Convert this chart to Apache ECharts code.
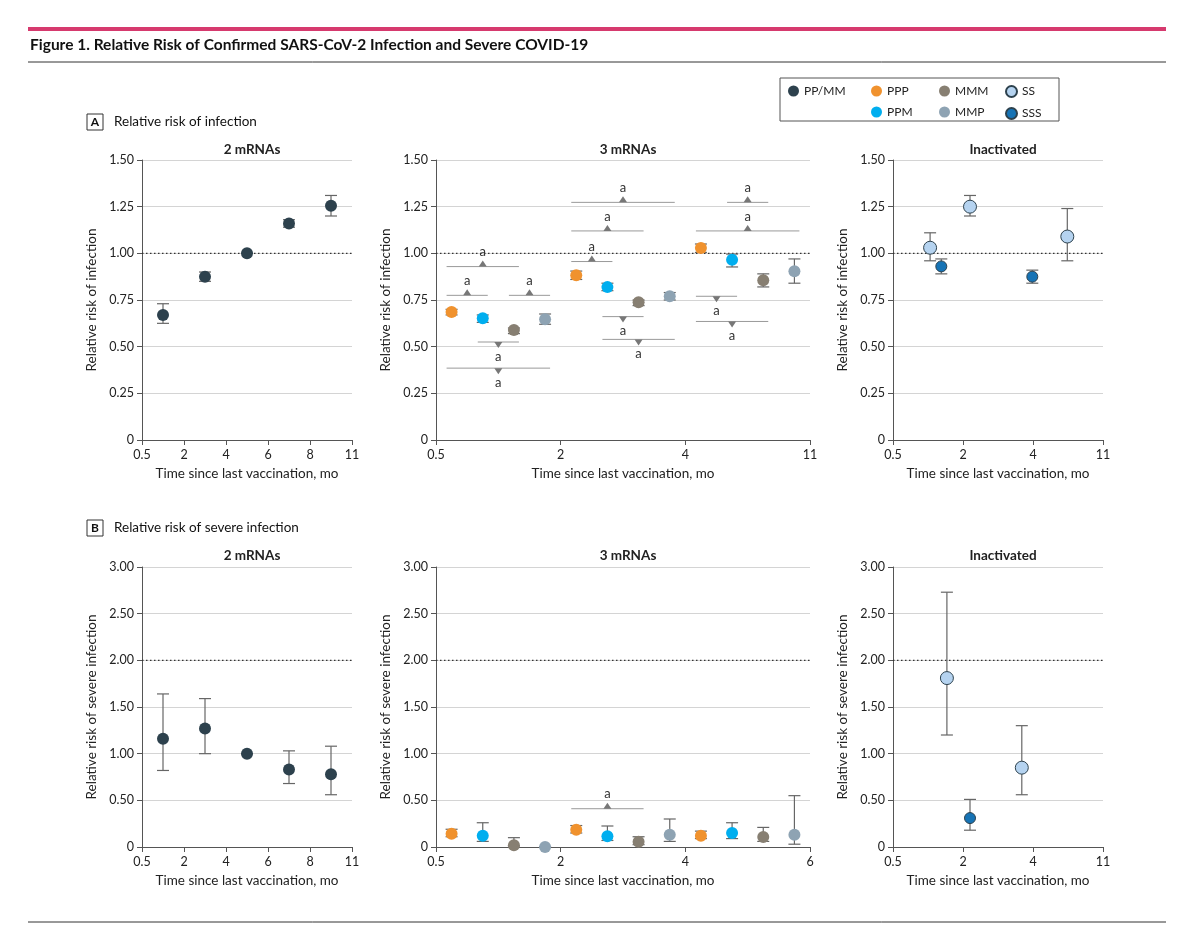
<!DOCTYPE html>
<html>
<head>
<meta charset="utf-8">
<script src="https://cdn.jsdelivr.net/npm/echarts@6/dist/echarts.min.js"></script>
<style>html,body{margin:0;padding:0;background:#fff}#chart{width:1200px;height:927px}</style>
</head>
<body>
<div id="chart"></div>
<script>
// tick labels
var ticks2 = ['0.5', '2', '4', '6', '8', '11'];
var ticks3Top = ['0.5', '2', '4', '11'];
var ticks3Bot = ['0.5', '2', '4', '6'];
var ticksInact = ['0.5', '2', '4', '11'];

// 2 mRNAs (PP/MM): [estimate, low, high]
var pp_inf = [[0.67, 0.625, 0.73], [0.875, 0.85, 0.90], [1.0, 1.0, 1.0], [1.16, 1.14, 1.18], [1.255, 1.20, 1.31]];
var pp_sev = [[1.16, 0.82, 1.64], [1.27, 1.0, 1.59], [1.0, 1.0, 1.0], [0.83, 0.68, 1.03], [0.78, 0.56, 1.08]];

// 3 mRNAs, one array per series, one entry per time group
var ppp_inf = [[0.686, 0.67, 0.70], [0.883, 0.86, 0.905], [1.028, 1.005, 1.05]];
var ppm_inf = [[0.652, 0.63, 0.67], [0.819, 0.80, 0.84], [0.965, 0.927, 0.996]];
var mmm_inf = [[0.589, 0.57, 0.60], [0.738, 0.72, 0.75], [0.856, 0.82, 0.89]];
var mmp_inf = [[0.647, 0.62, 0.675], [0.77, 0.75, 0.79], [0.904, 0.84, 0.97]];
var ppp_sev = [[0.143, 0.11, 0.19], [0.186, 0.15, 0.23], [0.12, 0.09, 0.17]];
var ppm_sev = [[0.12, 0.06, 0.26], [0.114, 0.07, 0.225], [0.15, 0.09, 0.26]];
var mmm_sev = [[0.02, 0.01, 0.10], [0.057, 0.025, 0.11], [0.107, 0.06, 0.21]];
var mmp_sev = [[0.0, 0.0, 0.0], [0.13, 0.06, 0.30], [0.13, 0.03, 0.55]];

// significance brackets: [group, fromSeries, toSeries, y, direction]
var brk_inf = [
  [0, 0, 2, 0.929, 'up'], [0, 0, 1, 0.775, 'up'], [0, 2, 3, 0.775, 'up'],
  [0, 1, 2, 0.525, 'down'], [0, 0, 3, 0.385, 'down'],
  [1, 0, 3, 1.273, 'up'], [1, 0, 2, 1.12, 'up'], [1, 0, 1, 0.956, 'up'],
  [1, 1, 2, 0.661, 'down'], [1, 1, 3, 0.539, 'down'],
  [2, 1, 2, 1.273, 'up'], [2, 0, 3, 1.12, 'up'],
  [2, 0, 1, 0.77, 'down'], [2, 0, 2, 0.635, 'down']
];
var brk_sev = [[1, 0, 2, 0.41, 'up']];

// inactivated: [x position on band axis, estimate, low, high]
var ss_inf = [[0.53, 1.03, 0.96, 1.11], [1.1, 1.25, 1.20, 1.31], [2.49, 1.09, 0.96, 1.24]];
var sss_inf = [[0.69, 0.93, 0.89, 0.97], [1.99, 0.875, 0.84, 0.91]];
var ss_sev = [[0.77, 1.81, 1.20, 2.73], [1.84, 0.85, 0.56, 1.30]];
var sss_sev = [[1.1, 0.31, 0.18, 0.51]];

var colors = {
  'PP/MM': '#2d414d', PPP: '#f0922e', PPM: '#00aeef', MMM: '#877f72',
  MMP: '#8ea3b3', SS: '#b5d3f0', SSS: '#1673b5'
};

var chart = echarts.init(document.getElementById('chart'));

var grids = [
  {left: 142, top: 160, width: 210, height: 280},
  {left: 436, top: 160, width: 374, height: 280},
  {left: 893, top: 160, width: 210, height: 280},
  {left: 142, top: 567, width: 210, height: 280},
  {left: 436, top: 567, width: 374, height: 280},
  {left: 893, top: 567, width: 210, height: 280}
];
var xTicks = [ticks2, ticks3Top, ticksInact, ticks2, ticks3Bot, ticksInact];
var axText = {color: '#222', fontSize: 12.5, fontFamily: 'Lato'};

var xAxes = xTicks.map(function (t, i) {
  return {
    gridIndex: i, type: 'value', min: 0, max: t.length - 1, interval: 1,
    name: 'Time since last vaccination, mo', nameLocation: 'middle', nameGap: 27,
    nameTextStyle: {color: '#222', fontSize: 13.5, fontFamily: 'Lato'},
    axisLine: {lineStyle: {color: '#555'}}, axisTick: {lineStyle: {color: '#555'}},
    splitLine: {show: false},
    axisLabel: Object.assign({formatter: function (v) { return t[Math.round(v)]; }}, axText)
  };
});
var yAxes = grids.map(function (g, i) {
  var top = i < 3;
  return {
    gridIndex: i, type: 'value', min: 0, max: top ? 1.5 : 3, interval: top ? 0.25 : 0.5,
    name: top ? 'Relative risk of infection' : 'Relative risk of severe infection',
    nameLocation: 'middle', nameGap: 43,
    nameTextStyle: {color: '#222', fontSize: 13.5, fontFamily: 'Lato'},
    axisLine: {show: true, lineStyle: {color: '#555'}}, axisTick: {show: true, lineStyle: {color: '#555'}},
    splitLine: {lineStyle: {color: '#d4d4d4'}},
    axisLabel: Object.assign({formatter: function (v) { return v === 0 ? '0' : v.toFixed(2); }}, axText)
  };
});

var series = [];

function addPoints(name, gi, pts, size) {
  series.push({
    type: 'custom', xAxisIndex: gi, yAxisIndex: gi, silent: true, z: 2,
    data: pts.map(function (p) { return [p[0], p[2], p[3]]; }),
    encode: {x: 0, y: [1, 2]},
    renderItem: function (params, api) {
      var x = api.value(0);
      var lo = api.coord([x, api.value(1)]);
      var hi = api.coord([x, api.value(2)]);
      var w = 6;
      var st = {stroke: '#666', lineWidth: 1.2};
      return {type: 'group', children: [
        {type: 'line', shape: {x1: lo[0], y1: lo[1], x2: hi[0], y2: hi[1]}, style: st},
        {type: 'line', shape: {x1: lo[0] - w, y1: lo[1], x2: lo[0] + w, y2: lo[1]}, style: st},
        {type: 'line', shape: {x1: hi[0] - w, y1: hi[1], x2: hi[0] + w, y2: hi[1]}, style: st}
      ]};
    }
  });
  series.push({
    name: name, type: 'scatter', xAxisIndex: gi, yAxisIndex: gi, z: 3,
    symbolSize: size || 12,
    itemStyle: {color: colors[name], borderColor: '#2d414d', borderWidth: name === 'SS' || name === 'SSS' ? 1 : 0, opacity: 1},
    data: pts.map(function (p) { return [p[0], p[1]]; })
  });
}

function addRef(gi, y) {
  series.push({
    type: 'line', xAxisIndex: gi, yAxisIndex: gi, silent: true, symbol: 'none', z: 1,
    data: [[0, y], [xTicks[gi].length - 1, y]],
    lineStyle: {color: '#333', width: 1.2, type: [1.5, 2.5]}
  });
}

function addBrackets(gi, list) {
  series.push({
    type: 'custom', xAxisIndex: gi, yAxisIndex: gi, silent: true, z: 2,
    data: list.map(function (b) {
      return [b[0] + (b[1] + 0.5) / 4, b[0] + (b[2] + 0.5) / 4, b[3], b[4] === 'up' ? 1 : -1];
    }),
    encode: {x: [0, 1], y: 2},
    renderItem: function (params, api) {
      var a = api.coord([api.value(0), api.value(2)]);
      var b = api.coord([api.value(1), api.value(2)]);
      var d = api.value(3);
      var m = (a[0] + b[0]) / 2, y = a[1];
      var tri = d > 0 ? [[m - 4, y], [m + 4, y], [m, y - 6]] : [[m - 4, y], [m + 4, y], [m, y + 6]];
      return {type: 'group', children: [
        {type: 'line', shape: {x1: a[0] - 5, y1: y, x2: b[0] + 5, y2: y}, style: {stroke: '#999', lineWidth: 1}},
        {type: 'polygon', shape: {points: tri}, style: {fill: '#777'}},
        {type: 'text', x: m, y: d > 0 ? y - 8 : y + 8,
          style: {text: 'a', fill: '#333', fontSize: 13, fontFamily: 'Lato', align: 'center', verticalAlign: d > 0 ? 'bottom' : 'top'}}
      ]};
    }
  });
}

function idx(arr) { return arr.map(function (p, i) { return [i + 0.5, p[0], p[1], p[2]]; }); }
function grp(arr, k) { return arr.map(function (p, g) { return [g + (k + 0.5) / 4, p[0], p[1], p[2]]; }); }

addRef(0, 1); addRef(1, 1); addRef(2, 1);
addRef(3, 2); addRef(4, 2); addRef(5, 2);

addPoints('PP/MM', 0, idx(pp_inf));
addPoints('PP/MM', 3, idx(pp_sev));

addBrackets(1, brk_inf);
addBrackets(4, brk_sev);
[[ppp_inf, ppp_sev, 'PPP'], [ppm_inf, ppm_sev, 'PPM'], [mmm_inf, mmm_sev, 'MMM'], [mmp_inf, mmp_sev, 'MMP']].forEach(function (s, k) {
  addPoints(s[2], 1, grp(s[0], k));
  addPoints(s[2], 4, grp(s[1], k));
});

addPoints('SS', 2, ss_inf, 13);
addPoints('SSS', 2, sss_inf, 11);
addPoints('SS', 5, ss_sev, 13);
addPoints('SSS', 5, sss_sev, 11);

var subTitles = [['2 mRNAs', 247, 138], ['3 mRNAs', 623, 138], ['Inactivated', 998, 138],
                 ['2 mRNAs', 247, 544], ['3 mRNAs', 623, 544], ['Inactivated', 998, 544]];

var legendBase = {
  orient: 'vertical', itemWidth: 11, itemHeight: 11, itemGap: 9, icon: 'circle',
  textStyle: {color: '#222', fontSize: 12, fontFamily: 'Lato'}, selectedMode: false
};

var option = {
  animation: false,
  grid: grids,
  xAxis: xAxes,
  yAxis: yAxes,
  title: subTitles.map(function (t) {
    return {text: t[0], left: t[1], top: t[2], textAlign: 'center',
      textStyle: {fontSize: 13.5, fontWeight: 'bold', color: '#222', fontFamily: 'Lato'}};
  }),
  legend: [
    Object.assign({data: ['PP/MM'], left: 783, top: 80}, legendBase),
    Object.assign({data: ['PPP', 'PPM'], left: 866, top: 80}, legendBase),
    Object.assign({data: ['MMM', 'MMP'], left: 934, top: 80}, legendBase),
    Object.assign({data: ['SS', 'SSS'], left: 1000, top: 80}, legendBase)
  ],
  graphic: [
    {type: 'rect', shape: {x: 28, y: 27, width: 1138, height: 4}, style: {fill: '#d63a6e'}},
    {type: 'text', left: 30, top: 37, style: {text: 'Figure 1. Relative Risk of Confirmed SARS-CoV-2 Infection and Severe COVID-19', fill: '#111', fontSize: 15.5, fontWeight: 'bold', fontFamily: 'Lato'}},
    {type: 'line', shape: {x1: 28, y1: 62, x2: 1166, y2: 62}, style: {stroke: '#333', lineWidth: 1}},
    {type: 'line', shape: {x1: 28, y1: 922, x2: 1166, y2: 922}, style: {stroke: '#333', lineWidth: 1}},
    {type: 'rect', shape: {x: 780, y: 78, width: 279, height: 43}, style: {fill: 'none', stroke: '#555', lineWidth: 1}},
    {type: 'rect', shape: {x: 87, y: 114, width: 16, height: 16}, style: {fill: 'none', stroke: '#333', lineWidth: 1}},
    {type: 'text', x: 95, y: 122, style: {text: 'A', fill: '#111', fontSize: 12, fontWeight: 'bold', fontFamily: 'Lato', align: 'center', verticalAlign: 'middle'}},
    {type: 'text', x: 114, y: 122, style: {text: 'Relative risk of infection', fill: '#111', fontSize: 13.5, fontFamily: 'Lato', verticalAlign: 'middle'}},
    {type: 'rect', shape: {x: 87, y: 520, width: 16, height: 16}, style: {fill: 'none', stroke: '#333', lineWidth: 1}},
    {type: 'text', x: 95, y: 528, style: {text: 'B', fill: '#111', fontSize: 12, fontWeight: 'bold', fontFamily: 'Lato', align: 'center', verticalAlign: 'middle'}},
    {type: 'text', x: 114, y: 528, style: {text: 'Relative risk of severe infection', fill: '#111', fontSize: 13.5, fontFamily: 'Lato', verticalAlign: 'middle'}}
  ],
  series: series
};
chart.setOption(option);
</script>
</body>
</html>
